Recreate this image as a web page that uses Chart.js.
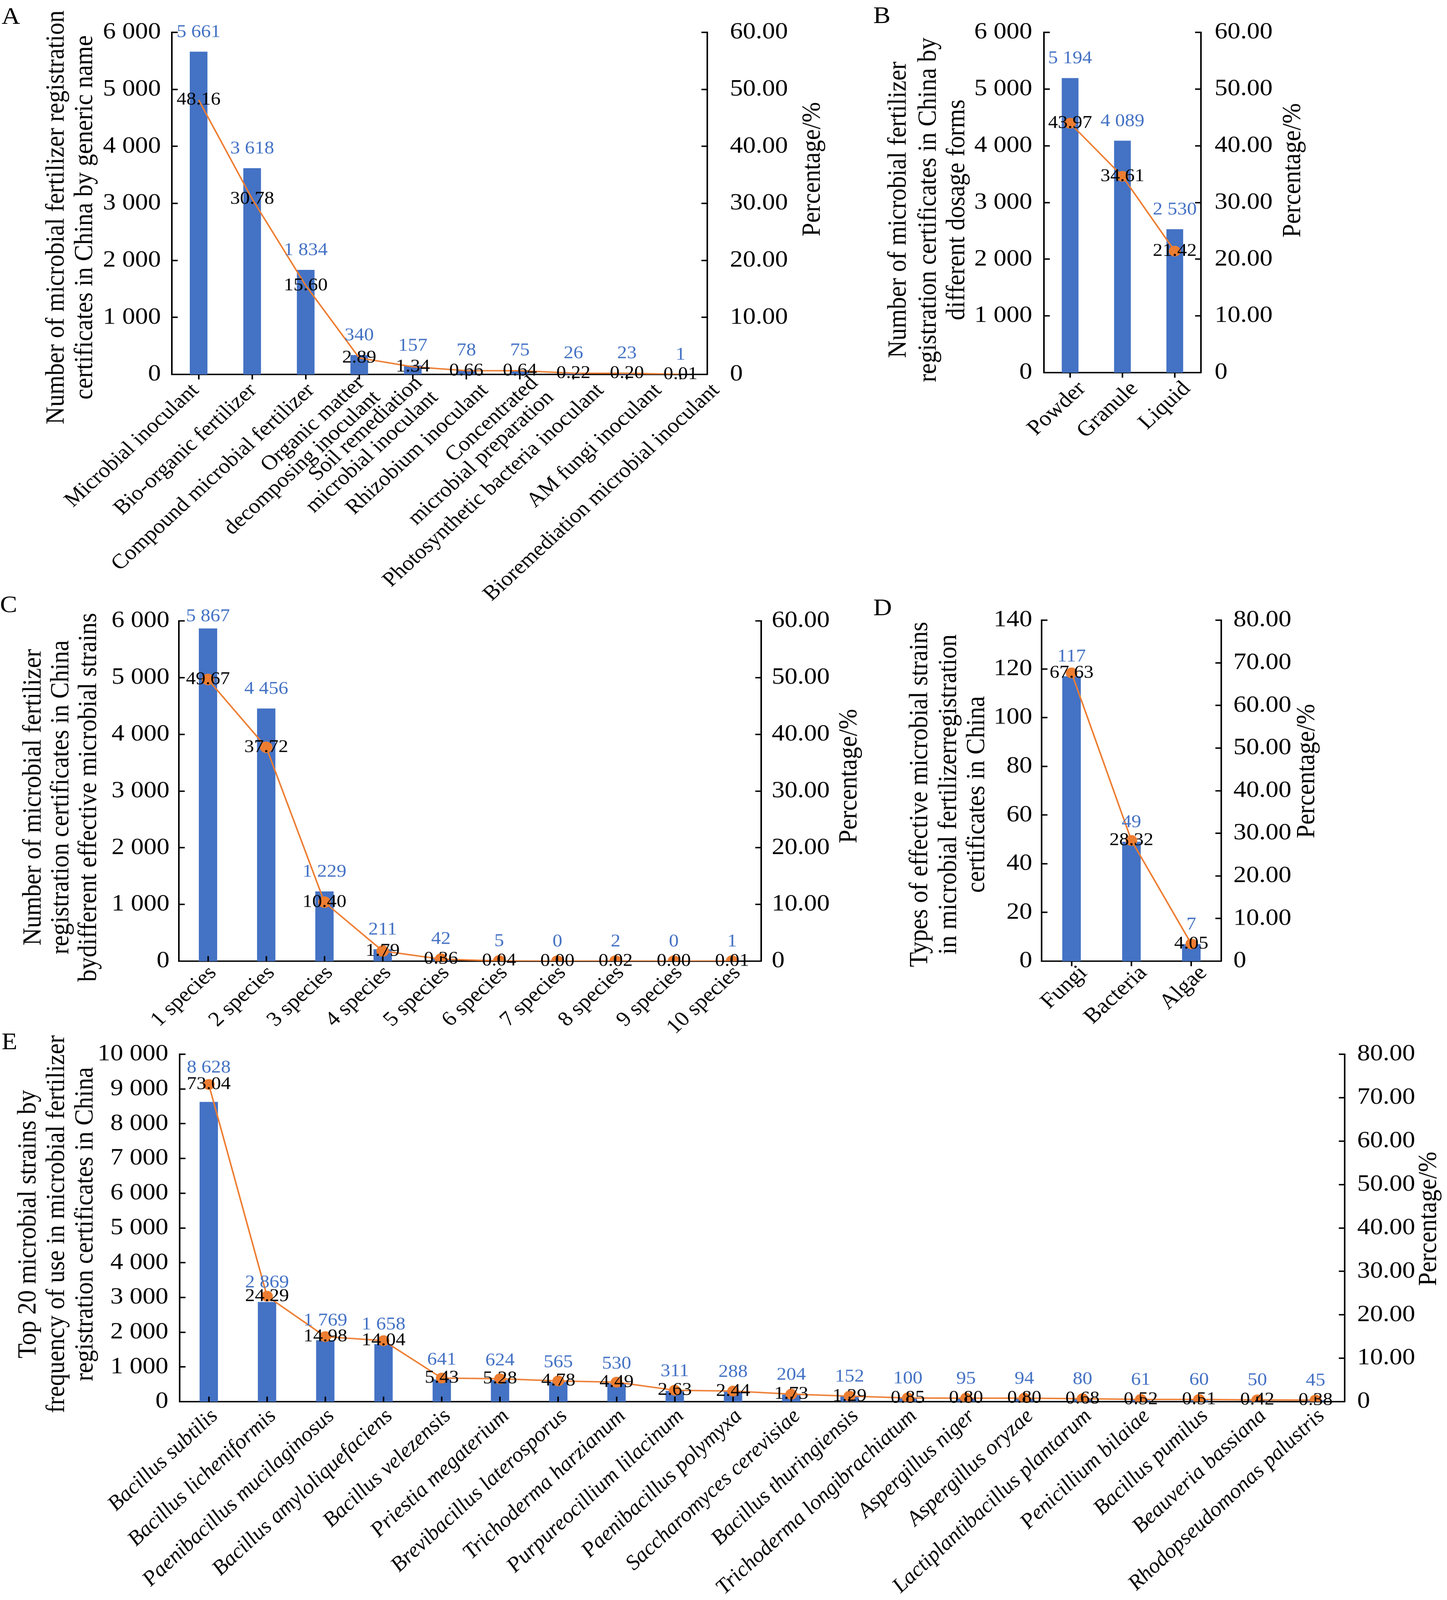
<!DOCTYPE html>
<html>
<head>
<meta charset="utf-8">
<script src="https://cdn.jsdelivr.net/npm/chart.js@4.4.0/dist/chart.umd.min.js"></script>
<style>
  html, body { margin: 0; background: #fff; overflow: hidden; }
  #page { position: absolute; left: 0; top: 0; width: 3705px; height: 4453px; transform-origin: 0 0;
          font-family: "Liberation Serif", "Times New Roman", serif; }
  canvas { position: absolute; }
  .tag { position: absolute; font-size: 66px; line-height: 1; color: #000; }
</style>
</head>
<body>
<div id="page">
  <div class="tag" style="left:4px;top:11px">A</div>
  <div class="tag" style="left:2236px;top:9px">B</div>
  <div class="tag" style="left:0px;top:1649px">C</div>
  <div class="tag" style="left:2236px;top:1657px">D</div>
  <div class="tag" style="left:4px;top:2865px">E</div>
</div>
<script>
// A - by generic name
const genericNames = ['Microbial inoculant', 'Bio-organic fertilizer', 'Compound microbial fertilizer',
  ['Organic matter', 'decomposing inoculant'], ['Soil remediation', 'microbial inoculant'],
  'Rhizobium inoculant', ['Concentrated', 'microbial preparation'],
  'Photosynthetic bacteria inoculant', 'AM fungi inoculant', 'Bioremediation microbial inoculant'];
const genericCounts = [5661, 3618, 1834, 340, 157, 78, 75, 26, 23, 1];
const genericPct = [48.16, 30.78, 15.60, 2.89, 1.34, 0.66, 0.64, 0.22, 0.20, 0.01];

// B - dosage forms
const dosageForms = ['Powder', 'Granule', 'Liquid'];
const dosageCounts = [5194, 4089, 2530];
const dosagePct = [43.97, 34.61, 21.42];

// C - number of effective strains
const speciesNumbers = ['1 species', '2 species', '3 species', '4 species', '5 species',
  '6 species', '7 species', '8 species', '9 species', '10 species'];
const speciesCounts = [5867, 4456, 1229, 211, 42, 5, 0, 2, 0, 1];
const speciesPct = [49.67, 37.72, 10.40, 1.79, 0.36, 0.04, 0.00, 0.02, 0.00, 0.01];

// D - types of strains
const strainTypes = ['Fungi', 'Bacteria', 'Algae'];
const strainTypeCounts = [117, 49, 7];
const strainTypePct = [67.63, 28.32, 4.05];

// E - top 20 strains
const topStrains = ['Bacillus subtilis', 'Bacillus licheniformis', 'Paenibacillus mucilaginosus',
  'Bacillus amyloliquefaciens', 'Bacillus velezensis', 'Priestia megaterium', 'Brevibacillus laterosporus',
  'Trichoderma harzianum', 'Purpureocillium lilacinum', 'Paenibacillus polymyxa', 'Saccharomyces cerevisiae',
  'Bacillus thuringiensis', 'Trichoderma longibrachiatum', 'Aspergillus niger', 'Aspergillus oryzae',
  'Lactiplantibacillus plantarum', 'Penicillium bilaiae', 'Bacillus pumilus', 'Beauveria bassiana',
  'Rhodopseudomonas palustris'];
const topStrainCounts = [8628, 2869, 1769, 1658, 641, 624, 565, 530, 311, 288, 204, 152, 100, 95, 94, 80, 61, 60, 50, 45];
const topStrainPct = [73.04, 24.29, 14.98, 14.04, 5.43, 5.28, 4.78, 4.49, 2.63, 2.44, 1.73, 1.29, 0.85, 0.80, 0.80, 0.68, 0.52, 0.51, 0.42, 0.38];

// tick values
const countTicks6000 = [0, 1000, 2000, 3000, 4000, 5000, 6000];
const countTicks10000 = [0, 1000, 2000, 3000, 4000, 5000, 6000, 7000, 8000, 9000, 10000];
const typeTicks = [0, 20, 40, 60, 80, 100, 120, 140];
const pctTicks60 = [0, 10, 20, 30, 40, 50, 60];
const pctTicks80 = [0, 10, 20, 30, 40, 50, 60, 70, 80];

const BLUE = '#4472C4';
const ORANGE = '#ED7D31';
const FONT = 'Liberation Serif';

const spaced = v => String(v).replace(/\B(?=(\d{3})+(?!\d))/g, ' ');
const pctText = v => v === 0 ? '0' : v.toFixed(2);

// the figure is laid out at 3705x4453, fit it into whatever the window gives
const page = document.getElementById('page');
page.style.transform = 'scale(' + (window.innerWidth / 3705) + ',' + (window.innerHeight / 4453) + ')';

// inward ticks, rotated category labels, value labels, axis titles
const decor = {
    id: 'decor',
    afterDraw(chart, args, o) {
        const ctx = chart.ctx;
        const area = chart.chartArea;
        ctx.save();
        ctx.strokeStyle = '#000';
        ctx.lineWidth = 4;
        ['y', 'y1'].forEach(id => {
            const s = chart.scales[id];
            const x0 = id === 'y' ? area.left : area.right;
            const dir = id === 'y' ? 1 : -1;
            s.ticks.forEach(t => {
                const py = Math.round(s.getPixelForValue(t.value));
                ctx.beginPath();
                ctx.moveTo(x0, py);
                ctx.lineTo(x0 + dir * 15, py);
                ctx.stroke();
            });
        });
        const xs = chart.scales.x;
        xs.ticks.forEach((t, i) => {
            const px = Math.round(xs.getPixelForTick(i));
            ctx.beginPath();
            ctx.moveTo(px, area.bottom);
            ctx.lineTo(px, area.bottom + o.xTick);
            ctx.stroke();
        });

        // category labels, rotated 45 degrees
        const xl = o.xLabel;
        ctx.fillStyle = '#000';
        ctx.font = (xl.italic ? 'italic ' : '') + xl.size + 'px "' + FONT + '"';
        ctx.textAlign = 'right';
        ctx.textBaseline = 'middle';
        chart.data.labels.forEach((lb, i) => {
            const lines = Array.isArray(lb) ? lb : [lb];
            ctx.save();
            ctx.translate(xs.getPixelForTick(i) + xl.dx + i * (xl.spread || 0), area.bottom + xl.dy);
            ctx.rotate(-Math.PI / 4);
            lines.forEach((ln, k) => ctx.fillText(ln, 0, (k - (lines.length - 1) / 2) * xl.lh));
            ctx.restore();
        });

        // data labels
        const bars = chart.getDatasetMeta(0).data;
        const pts = chart.getDatasetMeta(1).data;
        const counts = chart.data.datasets[0].data;
        const pcts = chart.data.datasets[1].data;
        ctx.font = '50px "' + FONT + '"';
        ctx.textAlign = 'center';
        bars.forEach((b, i) => {
            let y = Math.max(b.y - 54, area.top - 12);
            if (Math.abs(y - pts[i].y) < 30) y = pts[i].y - 46;
            ctx.fillStyle = BLUE;
            ctx.fillText(spaced(counts[i]), b.x, y);
        });
        pts.forEach((p, i) => {
            ctx.fillStyle = '#000';
            ctx.fillText(pcts[i].toFixed(2), p.x, p.y);
        });

        // axis titles
        ctx.font = '68px "' + FONT + '"';
        ctx.fillStyle = '#000';
        o.leftTitle.lines.forEach((line, i) => {
            ctx.save();
            ctx.translate(o.leftTitle.x[i] - o.ox, o.leftTitle.y - o.oy);
            ctx.rotate(-Math.PI / 2);
            ctx.fillText(line, 0, 0);
            ctx.restore();
        });
        ctx.save();
        ctx.translate(o.rightTitle.x - o.ox, o.rightTitle.y - o.oy);
        ctx.rotate(-Math.PI / 2);
        ctx.fillText('Percentage/%', 0, 0);
        ctx.restore();
        ctx.restore();
    }
};

function makePanel(p) {
    const [bx, by, bw, bh] = p.box;
    const [al, at, ar, ab] = p.area;
    const cv = document.createElement('canvas');
    cv.width = bw;
    cv.height = bh;
    cv.style.left = bx + 'px';
    cv.style.top = by + 'px';
    page.appendChild(cv);

    const axisBorder = { display: true, color: '#000', width: 4 };
    new Chart(cv.getContext('2d'), {
        type: 'bar',
        data: {
            labels: p.labels,
            datasets: [{
                type: 'bar',
                data: p.counts,
                backgroundColor: BLUE,
                barPercentage: p.barPct,
                categoryPercentage: 1,
                yAxisID: 'y',
                order: 1
            }, {
                type: 'line',
                data: p.pct,
                yAxisID: 'y1',
                borderColor: ORANGE,
                borderWidth: 4,
                pointRadius: p.dot,
                pointBackgroundColor: ORANGE,
                pointBorderWidth: 0,
                tension: 0,
                order: 0
            }]
        },
        options: {
            responsive: false,
            animation: false,
            devicePixelRatio: 1,
            events: [],
            layout: { padding: { top: at - by, left: 0, right: 0, bottom: 0 } },
            plugins: {
                legend: { display: false },
                tooltip: { enabled: false },
                decor: {
                    ox: bx, oy: by, xTick: p.xTick, xLabel: p.xLabel,
                    leftTitle: p.leftTitle, rightTitle: p.rightTitle
                }
            },
            scales: {
                x: {
                    z: 1,
                    grid: { display: false },
                    border: axisBorder,
                    ticks: { display: false, autoSkip: false },
                    afterFit: s => { s.height = by + bh - ab; }
                },
                y: {
                    position: 'left',
                    z: 1,
                    min: p.leftTicks[0],
                    max: p.leftTicks[p.leftTicks.length - 1],
                    grid: { display: false },
                    border: axisBorder,
                    afterBuildTicks: s => { s.ticks = p.leftTicks.map(v => ({ value: v })); },
                    ticks: { padding: p.lPad, color: '#000', font: { family: FONT, size: 66 }, callback: v => spaced(v) },
                    afterFit: s => { s.width = al - bx; }
                },
                y1: {
                    position: 'right',
                    z: 1,
                    min: p.rightTicks[0],
                    max: p.rightTicks[p.rightTicks.length - 1],
                    grid: { display: false },
                    border: axisBorder,
                    afterBuildTicks: s => { s.ticks = p.rightTicks.map(v => ({ value: v })); },
                    ticks: { padding: p.rPad, color: '#000', font: { family: FONT, size: 66 }, callback: v => pctText(v) },
                    afterFit: s => { s.width = bx + bw - ar; }
                }
            }
        },
        plugins: [decor]
    });
}

makePanel({
    box: [0, 0, 2150, 1720], area: [440, 90, 1811, 1042],
    labels: genericNames, counts: genericCounts, pct: genericPct,
    leftTicks: countTicks6000, rightTicks: pctTicks60,
    barPct: 0.33, dot: 0, xTick: 14, lPad: 20, rPad: 50,
    xLabel: { size: 58, dx: -8, dy: 36, lh: 57, spread: 11 },
    leftTitle: { lines: ['Number of microbial fertilizer registration', 'certificates in China by generic name'], x: [145, 218], y: 605 },
    rightTitle: { x: 2081, y: 471 }
});

makePanel({
    box: [2200, 0, 1505, 1300], area: [2673, 90, 3075, 1037],
    labels: dosageForms, counts: dosageCounts, pct: dosagePct,
    leftTicks: countTicks6000, rightTicks: pctTicks60,
    barPct: 0.32, dot: 15, xTick: 14, lPad: 22, rPad: 27,
    xLabel: { size: 60, dx: 31, dy: 36, lh: 57 },
    leftTitle: { lines: ['Number of microbial fertilizer', 'registration certificates in China by', 'different dosage forms'], x: [2301, 2378, 2451], y: 584 },
    rightTitle: { x: 3311, y: 474 }
});

makePanel({
    box: [0, 1640, 2250, 1240], area: [458, 1728, 1949, 2675],
    labels: speciesNumbers, counts: speciesCounts, pct: speciesPct,
    leftTicks: countTicks6000, rightTicks: pctTicks60,
    barPct: 0.315, dot: 16, xTick: -14, lPad: 16, rPad: 19,
    xLabel: { size: 58, dx: 13, dy: 24, lh: 57 },
    leftTitle: { lines: ['Number of microbial fertilizer', 'registration certificates in China', 'bydifferent effective microbial strains'], x: [86, 157, 228], y: 2219 },
    rightTitle: { x: 2175, y: 2160 }
});

makePanel({
    box: [2200, 1640, 1505, 1240], area: [2667, 1726, 3127, 2675],
    labels: strainTypes, counts: strainTypeCounts, pct: strainTypePct,
    leftTicks: typeTicks, rightTicks: pctTicks80,
    barPct: 0.31, dot: 15, xTick: 14, lPad: 16, rPad: 23,
    xLabel: { size: 60, dx: 31, dy: 24, lh: 57 },
    leftTitle: { lines: ['Types of effective microbial strains', 'in microbial fertilizerregistration', 'certificates in China'], x: [2356, 2430, 2502], y: 2211 },
    rightTitle: { x: 3347, y: 2146 }
});

makePanel({
    box: [0, 2850, 3705, 1603], area: [460, 2934, 3443, 3901],
    labels: topStrains, counts: topStrainCounts, pct: topStrainPct,
    leftTicks: countTicks10000, rightTicks: pctTicks80,
    barPct: 0.315, dot: 15, xTick: -14, lPad: 21, rPad: 24,
    xLabel: { size: 58, italic: true, dx: 15, dy: 32, lh: 57 },
    leftTitle: { lines: ['Top 20 microbial strains by', 'frequency of use in microbial fertilizer', 'registration certificates in China'], x: [73, 146, 219], y: 3407 },
    rightTitle: { x: 3659, y: 3392 }
});
</script>
</body>
</html>
